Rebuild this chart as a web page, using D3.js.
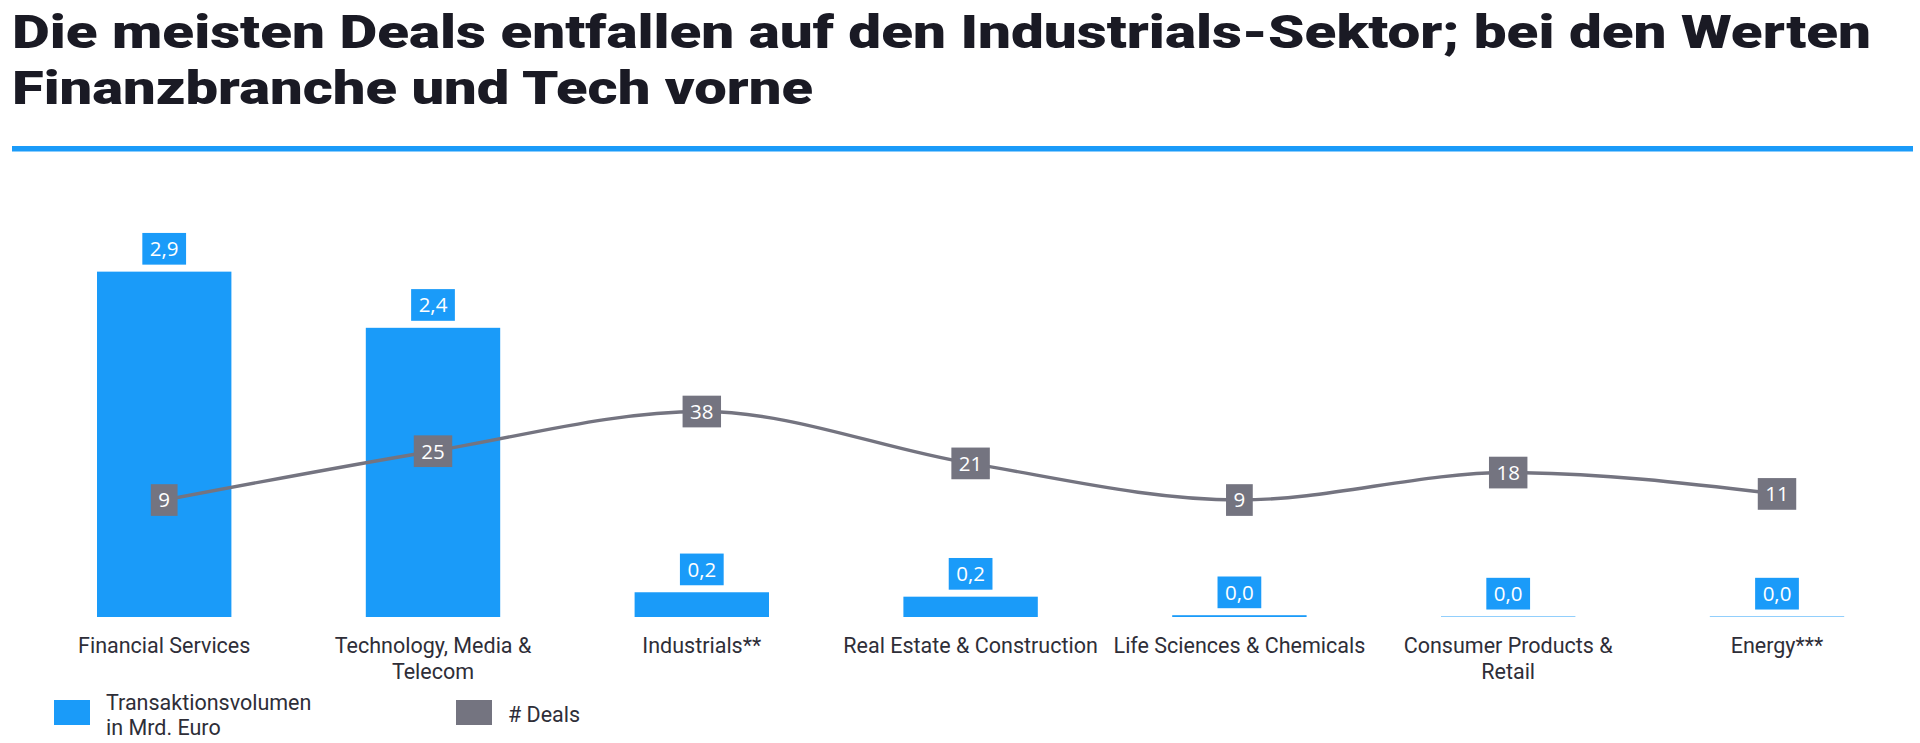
<!DOCTYPE html>
<html>
<head>
<meta charset="utf-8">
<script src="https://cdn.jsdelivr.net/npm/d3@7"></script>
<style>
  body { margin: 0; padding: 0; background: #fff; }
  svg { display: block; }
</style>
</head>
<body>
<svg id="chart" width="1920" height="743"></svg>
<script>
// data
const titleLines = [
  "Die meisten Deals entfallen auf den Industrials-Sektor; bei den Werten",
  "Finanzbranche und Tech vorne"
];
const categories = [
  "Financial Services",
  "Technology, Media &\nTelecom",
  "Industrials**",
  "Real Estate & Construction",
  "Life Sciences & Chemicals",
  "Consumer Products &\nRetail",
  "Energy***"
];
const volume = [2.89, 2.42, 0.207, 0.17, 0.015, 0.004, 0.004];   // Transaktionsvolumen in Mrd. Euro
const deals = [9, 25, 38, 21, 9, 18, 11];                         // # Deals
const legendItems = [
  { label: ["Transaktionsvolumen", "in Mrd. Euro"], kind: "bar" },
  { label: ["# Deals"], kind: "line" }
];

const BLUE = "#1a9bf9";
const GREY = "#747480";
const DARK = "#2e2e38";

const svg = d3.select("#chart");

// title
svg.selectAll(".title")
  .data(titleLines)
  .join("text")
  .attr("class", "title")
  .attr("x", 12)
  .attr("y", (d, i) => 48 + i * 55.6)
  .attr("font-family", "Roboto, 'Open Sans', sans-serif")
  .attr("font-weight", 900)
  .attr("font-size", "46px")
  .attr("fill", "#1a1a24")
  .attr("textLength", (d, i) => i === 0 ? 1859 : 801)
  .attr("lengthAdjust", "spacingAndGlyphs")
  .text(d => d);

svg.append("rect")
  .attr("x", 12).attr("y", 146)
  .attr("width", 1901).attr("height", 5.5)
  .attr("fill", BLUE);

// scales
const x = d3.scaleBand()
  .domain(categories)
  .range([97, 1844.2])
  .paddingInner(0.5)
  .paddingOuter(0);

const yBar = d3.scaleLinear().domain([0, 3.5]).range([617, 198.75]);
const yLine = d3.scaleLinear().domain([0, 100]).range([527.5, 222.3]);

const cx = d => x(d) + x.bandwidth() / 2;
const rows = categories.map((c, i) => ({ cat: c, vol: volume[i], deals: deals[i] }));

// bars
svg.append("g").selectAll("rect")
  .data(rows)
  .join("rect")
  .attr("x", d => x(d.cat))
  .attr("width", x.bandwidth())
  .attr("y", d => yBar(d.vol))
  .attr("height", d => yBar(0) - yBar(d.vol))
  .attr("fill", BLUE);

const fmt = v => v.toFixed(1).replace(".", ",");
const labelFont = "'Open Sans', 'DejaVu Sans', sans-serif";
const boxH = 31.7;

function addLabel(g, txt, xc, yc, fill) {
  const t = g.append("text")
    .attr("x", xc)
    .attr("y", yc + 7.4)
    .attr("text-anchor", "middle")
    .attr("font-family", labelFont)
    .attr("font-size", "20.5px")
    .attr("fill", "#fff")
    .text(txt);
  const w = t.node().getComputedTextLength() + 15;
  g.insert("rect", "text")
    .attr("x", xc - w / 2)
    .attr("y", yc - boxH / 2)
    .attr("width", w)
    .attr("height", boxH)
    .attr("fill", fill);
}

// bar value labels
rows.forEach(d => {
  const g = svg.append("g");
  addLabel(g, fmt(d.vol), cx(d.cat), yBar(d.vol) - 7 - boxH / 2, BLUE);
});

// deals line
const line = d3.line()
  .x(d => cx(d.cat))
  .y(d => yLine(d.deals))
  .curve(d3.curveMonotoneX);

svg.append("path")
  .datum(rows)
  .attr("d", line)
  .attr("fill", "none")
  .attr("stroke", GREY)
  .attr("stroke-width", 3.4);

rows.forEach(d => {
  const g = svg.append("g");
  addLabel(g, String(d.deals), cx(d.cat), yLine(d.deals), GREY);
});

// category labels
const catFont = "Roboto, 'Open Sans', sans-serif";
svg.append("g").selectAll("text")
  .data(categories)
  .join("text")
  .attr("text-anchor", "middle")
  .attr("font-family", catFont)
  .attr("font-size", "21.5px")
  .attr("fill", DARK)
  .each(function(d) {
    const el = d3.select(this);
    d.split("\n").forEach((ln, i) => {
      el.append("tspan")
        .attr("x", cx(d))
        .attr("y", 652.5 + i * 26.7)
        .text(ln);
    });
  });

// legend
const legendX = [54, 456];
const lg = svg.append("g").selectAll("g")
  .data(legendItems)
  .join("g")
  .attr("transform", (d, i) => `translate(${legendX[i]},700)`);

lg.append("rect")
  .attr("width", 36).attr("height", 25)
  .attr("fill", d => d.kind === "bar" ? BLUE : GREY);

lg.append("text")
  .attr("font-family", catFont)
  .attr("font-size", "21.5px")
  .attr("fill", DARK)
  .each(function(d) {
    const el = d3.select(this);
    const n = d.label.length;
    d.label.forEach((ln, i) => {
      el.append("tspan")
        .attr("x", 52)
        .attr("y", n === 1 ? 21.7 : 9.5 + i * 25.6)
        .text(ln);
    });
  });
</script>
</body>
</html>
